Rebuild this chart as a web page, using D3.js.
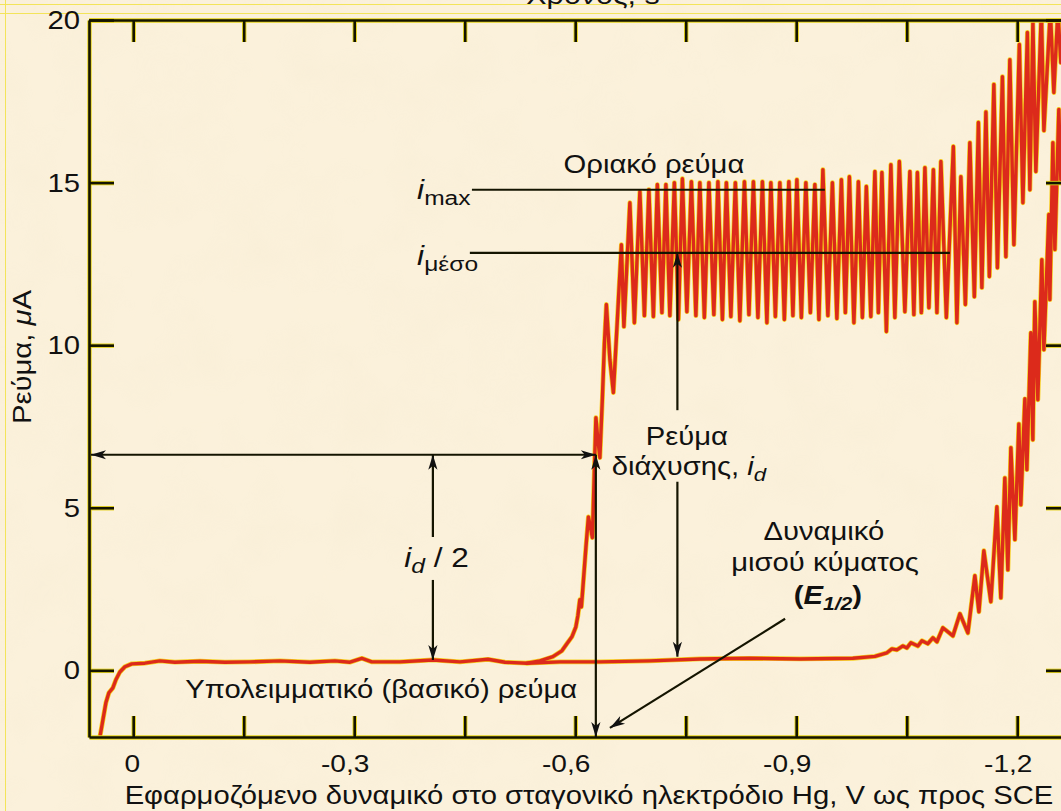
<!DOCTYPE html>
<html>
<head>
<meta charset="utf-8">
<script src="https://cdn.jsdelivr.net/npm/d3@7"></script>
<style>
  html, body { margin: 0; padding: 0; background: #fbf1db; }
  svg { display: block; }
  text { font-family: "Liberation Sans", Arial, Helvetica, sans-serif; fill: #111; }
</style>
</head>
<body>
<svg id="chart" width="1061" height="811"></svg>
<script>
// ---- Data: potential E (V vs SCE), current i (µA) ----
const residualCurve = [
  [0.0452,-2.05],[0.0411,-1.52],[0.0371,-1.0],[0.033,-0.69],[0.0276,-0.54],[0.0235,-0.29],
  [0.0181,-0.05],[0.0113,0.11],[0.0018,0.2],[-0.0159,0.22],[-0.0362,0.29],[-0.0566,0.25],
  [-0.0905,0.28],[-0.1245,0.25],[-0.1584,0.26],[-0.1991,0.29],[-0.2398,0.25],[-0.2738,0.29],
  [-0.2942,0.25],[-0.3104,0.37],[-0.324,0.26],[-0.362,0.26],[-0.4068,0.32],[-0.4435,0.26],
  [-0.4815,0.34],[-0.5046,0.25],[-0.5344,0.22],[-0.5792,0.26],[-0.6335,0.26],[-0.7014,0.29],
  [-0.7693,0.35],[-0.8371,0.37],[-0.905,0.35],[-0.9769,0.37],[-1.0068,0.43],[-1.0231,0.54],
  [-1.0299,0.66],[-1.0367,0.63],[-1.0448,0.75],[-1.0502,0.69],[-1.0557,0.85],[-1.0652,0.75],
  [-1.0706,0.91],[-1.0787,0.82],[-1.0855,1.0],[-1.091,0.88],[-1.0991,1.31],[-1.1127,1.06],
  [-1.1222,1.74],[-1.133,1.15],[-1.1425,2.91],[-1.148,1.8],[-1.1547,3.68],[-1.1642,2.11],
  [-1.1724,5.03],[-1.1778,2.23],[-1.1832,5.92],[-1.1873,3.09],[-1.1914,6.85],[-1.1968,4.02],
  [-1.2022,7.58],[-1.2049,5.09],[-1.2104,8.35],[-1.2131,6.17],[-1.2185,10.38],[-1.2212,7.09],
  [-1.2239,11.34],[-1.228,8.32],[-1.2334,12.63],[-1.2362,9.86],[-1.2429,14.02],[-1.2443,11.4],
  [-1.2484,16.23],[-1.2511,12.94],[-1.2565,17.25],[-1.2592,15.09],[-1.266,18.17]
];

const analyteCurve = [
  [-0.5344,0.22],[-0.552,0.29],[-0.5697,0.42],[-0.5819,0.6],[-0.5887,0.82],[-0.5955,1.03],
  [-0.6009,1.34],[-0.6036,1.68],[-0.6063,2.17],[-0.6084,1.95],[-0.6104,2.54],[-0.6145,3.77],
  [-0.6179,4.72],[-0.6206,4.42],[-0.6233,4.08],[-0.626,6.17],[-0.6281,7.77],[-0.6308,7.09],
  [-0.6335,6.54],[-0.6369,8.38],[-0.6396,10.02],[-0.6423,11.25],[-0.6471,9.55],[-0.6518,8.54],
  [-0.6572,10.78],[-0.6627,13.09],[-0.6661,10.57],
  [-0.6742,14.38],[-0.6803,10.69],[-0.6878,14.72],[-0.6939,10.91],[-0.7,14.78],[-0.7061,10.88],
  [-0.7115,14.94],[-0.7177,11.0],[-0.7231,14.94],[-0.7285,10.91],[-0.7346,15.0],[-0.7401,10.79],
  [-0.7455,15.12],[-0.7516,11.03],[-0.7577,15.03],[-0.7638,10.91],[-0.7692,15.0],[-0.7753,10.85],
  [-0.7815,15.0],[-0.7882,10.94],[-0.7937,15.03],[-0.7998,10.79],[-0.8052,15.0],[-0.8113,10.88],
  [-0.8174,15.0],[-0.8235,10.75],[-0.8297,15.03],[-0.8358,10.94],[-0.8419,15.03],[-0.848,10.85],
  [-0.8541,15.03],[-0.8602,10.69],[-0.8656,15.0],[-0.8717,10.88],[-0.8778,15.0],[-0.8839,10.79],
  [-0.89,15.03],[-0.8955,10.91],[-0.9009,15.09],[-0.907,10.85],[-0.9131,15.0],[-0.9192,11.0],
  [-0.9253,14.94],[-0.9308,10.79],[-0.9362,15.4],[-0.943,10.91],[-0.9491,15.0],[-0.9552,10.82],
  [-0.9613,15.09],[-0.9667,11.0],[-0.9722,15.18],[-0.9783,10.69],[-0.9844,15.03],[-0.9898,10.85],
  [-0.9952,14.88],[-1.0013,10.88],[-1.0068,15.34],[-1.0115,11.0],[-1.0163,15.31],[-1.0224,10.42],
  [-1.0285,15.55],[-1.0339,10.85],[-1.04,15.65],[-1.0475,11.03],[-1.0543,15.34],[-1.0597,10.94],
  [-1.0645,15.31],[-1.0699,11.0],[-1.0747,15.46],[-1.0801,11.15],[-1.0862,15.4],[-1.091,11.0],
  [-1.0964,15.65],[-1.1038,10.85],[-1.1133,16.11],[-1.1181,10.69],[-1.1235,15.18],[-1.1296,11.25],
  [-1.1357,16.23],[-1.1418,11.49],[-1.1473,16.85],[-1.152,11.77],[-1.1575,17.17],[-1.1622,12.11],
  [-1.1683,18.02],[-1.1731,12.38],[-1.1799,18.26],[-1.1846,12.72],[-1.19,18.78],[-1.1955,13.09],
  [-1.2029,19.25],[-1.2077,14.38],[-1.2138,19.62],[-1.2172,14.78],[-1.2213,19.92],[-1.2253,15.34],
  [-1.2328,20.3],[-1.2362,16.6],[-1.245,20.3],[-1.2497,17.77],[-1.2552,20.3],[-1.2592,18.69],
  [-1.2647,20.3]
];

const xTicks = [0, -0.15, -0.3, -0.45, -0.6, -0.75, -0.9, -1.05, -1.2];
const xTickLabels = ["0", "", "-0,3", "", "-0,6", "", "-0,9", "", "-1,2"];
const yTicks = [0, 5, 10, 15, 20];
const yTickLabels = ["0", "5", "10", "15", "20"];

// Characteristic currents and potentials of the wave
const iMax = 14.78;        // limiting current at drop maximum
const iMean = 12.84;       // mean limiting current
const iHalf = 6.63;        // half of the diffusion current above zero
const eHalfWave = -0.628;  // half-wave potential
const eDiffArrow = -0.7387;
const eHalfArrow = -0.4068;
const iResidualAtArrow = 0.42;
const iResidualAtHalf = 0.32;

// ---- Layout ----
const svg = d3.select("#chart");
const W = 1061, H = 811;
const plot = { left: 89, top: 20, right: 1071, bottom: 737 };
const stretch = 1.17;   // horizontal stretch of the lettering

const x = d3.scaleLinear().domain([0.06, -1.273]).range([plot.left, plot.right]);
const y = d3.scaleLinear().domain([-2.05, 20]).range([plot.bottom, plot.top]);

const defs = svg.append("defs");

// paper texture
const paper = defs.append("filter").attr("id", "paper")
  .attr("x", 0).attr("y", 0).attr("width", "100%").attr("height", "100%");
paper.append("feTurbulence").attr("type", "fractalNoise")
  .attr("baseFrequency", "0.018").attr("numOctaves", 3).attr("seed", 7).attr("result", "n");
paper.append("feColorMatrix").attr("in", "n").attr("type", "matrix")
  .attr("values", "0 0 0 0 0.93  0 0 0 0 0.84  0 0 0 0 0.66  0 0 0 1.3 -0.52");

defs.append("clipPath").attr("id", "plotClip")
  .append("rect").attr("x", plot.left).attr("y", plot.top)
  .attr("width", plot.right - plot.left).attr("height", plot.bottom - plot.top);

defs.append("marker").attr("id", "arrow")
  .attr("viewBox", "-16 -6 18 12").attr("refX", 0).attr("refY", 0)
  .attr("markerWidth", 18).attr("markerHeight", 12)
  .attr("markerUnits", "userSpaceOnUse").attr("orient", "auto-start-reverse")
  .append("path").attr("d", "M0,0 L-15,-4.6 L-11,0 L-15,4.6 Z").attr("fill", "#111");

// background
svg.append("rect").attr("width", W).attr("height", H).attr("fill", "#fbf1db");
svg.append("rect").attr("width", W).attr("height", H).attr("filter", "url(#paper)").attr("opacity", 0.55);

// thin slide rules
const rules = svg.append("g").attr("stroke", "#f2e23a").attr("stroke-width", 1).attr("opacity", 0.8);
rules.append("line").attr("x1", 0).attr("x2", W).attr("y1", 4.5).attr("y2", 4.5);
rules.append("line").attr("x1", 0).attr("x2", W).attr("y1", 13.5).attr("y2", 13.5);
rules.append("line").attr("x1", 5.5).attr("x2", 5.5).attr("y1", 0).attr("y2", H);

// text placed at (px, py) and stretched horizontally about its anchor
function label(px, py, size, anchor, extra) {
  return svg.append("text")
    .attr("transform", `translate(${px},${py})${extra || ""} scale(${stretch},1)`)
    .attr("text-anchor", anchor || "start").attr("font-size", size);
}

// top axis title (runs off the top edge)
label(593, 4, 26, "middle").text("Χρόνος, s");

// ---- Curves ----
const line = d3.line().x(d => x(d[0])).y(d => y(d[1]));
const curves = svg.append("g").attr("clip-path", "url(#plotClip)")
  .attr("fill", "none").attr("stroke-linejoin", "round").attr("stroke-linecap", "round");
[residualCurve, analyteCurve].forEach(c => {
  curves.append("path").attr("d", line(c)).attr("stroke", "#f6cf1c").attr("stroke-width", 4.8);
});
[residualCurve, analyteCurve].forEach(c => {
  curves.append("path").attr("d", line(c)).attr("stroke", "#dc2a1b").attr("stroke-width", 3.4);
});

// ---- Axes (frame + inward ticks) ----
function drawFrame(color, width) {
  const g = svg.append("g");
  const axes = [
    [d3.axisBottom(x).tickValues(xTicks).tickSize(-21), `translate(0,${plot.bottom})`],
    [d3.axisTop(x).tickValues(xTicks).tickSize(-22), `translate(0,${plot.top})`],
    [d3.axisLeft(y).tickValues(yTicks).tickSize(-25), `translate(${plot.left},0)`],
    [d3.axisRight(y).tickValues(yTicks).tickSize(-25), `translate(${plot.right},0)`]
  ];
  axes.forEach(([ax, tr]) => {
    const a = g.append("g").attr("transform", tr).call(ax.tickFormat("").tickSizeOuter(0));
    a.selectAll("path.domain").attr("stroke", color).attr("stroke-width", width);
    a.selectAll(".tick line").attr("stroke", color).attr("stroke-width", width);
    a.selectAll(".tick text").remove();
  });
}
drawFrame("#e5d21a", 4.4);
drawFrame("#141400", 2.6);

// tick labels
xTicks.forEach((v, i) => {
  if (!xTickLabels[i]) return;
  label(x(v) + (v < 0 ? -9 : -1), 772, 24, "middle").text(xTickLabels[i]);
});
yTicks.forEach((v, i) => {
  label(plot.left - 9, y(v) + 9, 25, "end").text(yTickLabels[i]);
});

// axis titles
label(589, 804, 25, "middle")
  .text("Εφαρμοζόμενο δυναμικό στο σταγονικό ηλεκτρόδιο Hg, V ως προς SCE");
const yt = label(31, 357, 25, "middle", " rotate(-90)");
yt.append("tspan").text("Ρεύμα, ");
yt.append("tspan").attr("font-style", "italic").text("μ");
yt.append("tspan").text("A");

// ---- Annotations ----
const ann = svg.append("g").attr("fill", "none").attr("stroke-linecap", "butt");
function seg(x1, y1, x2, y2, start, end) {
  const l = ann.append("line").attr("x1", x1).attr("y1", y1).attr("x2", x2).attr("y2", y2)
    .attr("stroke", "#141400").attr("stroke-width", 2.2);
  if (start) l.attr("marker-start", "url(#arrow)");
  if (end) l.attr("marker-end", "url(#arrow)");
  return l;
}
// limiting current levels
seg(x(-0.4598), y(iMax), x(-0.9388), y(iMax));
seg(x(-0.457), y(iMean), x(-1.1086), y(iMean));
// diffusion current arrow
seg(x(eDiffArrow), y(iMean), x(eDiffArrow), y(8.0), true, false);
seg(x(eDiffArrow), y(5.8), x(eDiffArrow), y(iResidualAtArrow), false, true);
// half-height horizontal arrow
seg(plot.left + 2, y(iHalf), x(eHalfWave), y(iHalf), true, true);
// half-wave potential vertical arrow
seg(x(eHalfWave), y(iHalf), x(eHalfWave), plot.bottom, true, true);
// i_d/2 arrow
seg(x(eHalfArrow), y(iHalf), x(eHalfArrow), y(4.1), true, false);
seg(x(eHalfArrow), y(2.78), x(eHalfArrow), y(iResidualAtHalf), false, true);
// pointer to the half-wave potential
seg(x(-0.8849), y(1.585), x(-0.6471), y(-1.77), false, true);

// labels
const fs = 25;
label(x(-0.7069), y(15.3), fs, "middle").text("Οριακό ρεύμα");

const tMax = label(x(-0.3854), y(14.48), 27);
tMax.append("tspan").attr("font-style", "italic").text("i");
tMax.append("tspan").attr("font-size", 21).attr("dy", 6).text("max");

const tMean = label(x(-0.3854), y(12.48), 27);
tMean.append("tspan").attr("font-style", "italic").text("i");
tMean.append("tspan").attr("font-size", 21).attr("dy", 6).text("μέσο");

label(x(-0.7516), y(6.94), fs, "middle").text("Ρεύμα");
const tDiff = label(x(-0.7543), y(6.02), fs, "middle");
tDiff.append("tspan").text("διάχυσης, ");
tDiff.append("tspan").attr("font-style", "italic").text("i");
tDiff.append("tspan").attr("font-style", "italic").attr("font-size", 19).attr("dy", 6).text("d");

const tHalf = label(x(-0.368), y(3.18), 27);
tHalf.append("tspan").attr("font-style", "italic").text("i");
tHalf.append("tspan").attr("font-style", "italic").attr("font-size", 21).attr("dy", 6).text("d");
tHalf.append("tspan").attr("dy", -6).text(" / 2");

label(x(-0.9375), y(4.02), fs, "middle").text("Δυναμικό");
label(x(-0.939), y(3.06), fs, "middle").text("μισού κύματος");
const tE = label(x(-0.943), y(2.05), fs, "middle").attr("font-weight", "bold");
tE.append("tspan").text("(");
tE.append("tspan").attr("font-style", "italic").text("E");
tE.append("tspan").attr("font-style", "italic").attr("font-size", 18).attr("dy", 6).text("1/2");
tE.append("tspan").attr("dy", -6).text(")");

label(x(-0.0705), y(-0.85), fs).text("Υπολειμματικό (βασικό) ρεύμα");
</script>
</body>
</html>
